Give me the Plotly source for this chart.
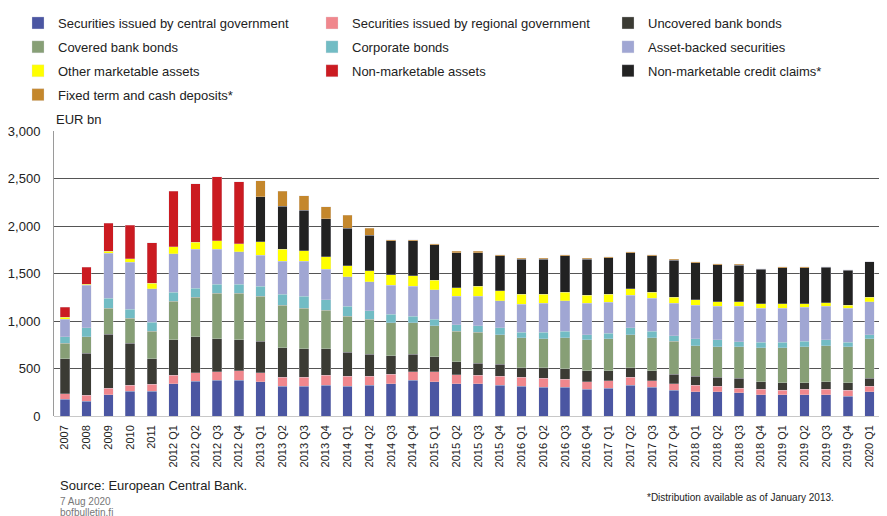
import plotly.graph_objects as go

categories = ["2007", "2008", "2009", "2010", "2011",
              "2012 Q1", "2012 Q2", "2012 Q3", "2012 Q4",
              "2013 Q1", "2013 Q2", "2013 Q3", "2013 Q4",
              "2014 Q1", "2014 Q2", "2014 Q3", "2014 Q4",
              "2015 Q1", "2015 Q2", "2015 Q3", "2015 Q4",
              "2016 Q1", "2016 Q2", "2016 Q3", "2016 Q4",
              "2017 Q1", "2017 Q2", "2017 Q3", "2017 Q4",
              "2018 Q1", "2018 Q2", "2018 Q3", "2018 Q4",
              "2019 Q1", "2019 Q2", "2019 Q3", "2019 Q4",
              "2020 Q1", "2020 Q2"]

central_gov = [178, 154, 224, 259, 259, 339, 364, 374, 374, 360, 315, 315, 325,
               315, 325, 339, 374, 360, 339, 339, 325, 315, 301, 301, 280,
               292, 325, 301, 269, 255, 255, 245, 224, 224, 224, 224, 210, 255, 371]
regional_gov = [56, 66, 66, 66, 77, 91, 91, 91, 102, 95, 94, 94, 105,
                101, 91, 102, 91, 105, 95, 91, 91, 91, 94, 84, 80,
                80, 81, 70, 70, 70, 60, 45, 56, 45, 56, 56, 59, 60, 84]
uncovered_bank = [371, 441, 570, 441, 269, 371, 381, 346, 325, 332, 308, 297, 276,
                  255, 234, 195, 185, 161, 136, 126, 129, 104, 115, 112, 116,
                  104, 104, 105, 102, 91, 91, 105, 80, 81, 70, 80, 81, 80, 136]
covered_bank = [161, 171, 276, 265, 287, 405, 416, 479, 489, 475, 451, 427, 406,
                381, 367, 347, 333, 322, 322, 325, 312, 315, 301, 328, 325,
                335, 347, 346, 346, 325, 325, 334, 360, 370, 381, 381, 381, 416, 577]
corporate = [66, 95, 105, 91, 94, 98, 91, 98, 98, 102, 115, 129, 112,
             105, 91, 90, 69, 69, 70, 70, 70, 56, 70, 67, 56,
             58, 70, 70, 59, 70, 70, 54, 56, 56, 56, 60, 45, 46, 94]
asset_backed = [185, 447, 472, 497, 353, 406, 412, 367, 343, 328, 346, 367, 321,
                308, 305, 301, 312, 312, 297, 308, 286, 297, 308, 321, 332,
                330, 342, 346, 343, 357, 356, 372, 360, 360, 360, 356, 360, 346, 374]
other_marketable = [25, 14, 21, 35, 60, 70, 74, 91, 80, 144, 126, 112, 130,
                    115, 115, 112, 112, 101, 91, 105, 105, 105, 94, 91, 80,
                    82, 70, 66, 59, 56, 46, 46, 46, 46, 35, 35, 32, 45, 60]
non_marketable = [105, 178, 297, 353, 426, 584, 615, 671, 654] + [None] * 30
credit_claims = [None] * 9 + [472, 451, 427, 402,
                              396, 374, 360, 370, 371, 370, 356, 367, 367, 367, 381, 381,
                              385, 381, 381, 392, 391, 388, 388, 363, 381, 377, 374, 367, 378, 668]
fixed_term = [None] * 9 + [168, 158, 150, 126,
                           136, 74, 11, 11, 14, 14, 14, 11, 11, 11, 11, 11,
                           11, 11, 11, 10, 11, 10, 10, 3, 10, 11, 3, 2, 0, 0]

# (name, values, colour, legend column)
series = [
    ("Securities issued by central government", central_gov, "#4B56A2", "legend"),
    ("Securities issued by regional government", regional_gov, "#F0878D", "legend2"),
    ("Uncovered bank bonds", uncovered_bank, "#3B3B34", "legend3"),
    ("Covered bank bonds", covered_bank, "#879F76", "legend"),
    ("Corporate bonds", corporate, "#72BCC4", "legend2"),
    ("Asset-backed securities", asset_backed, "#A0A6D3", "legend3"),
    ("Other marketable assets", other_marketable, "#FFFF00", "legend"),
    ("Non-marketable assets", non_marketable, "#CB1B21", "legend2"),
    ("Non-marketable credit claims*", credit_claims, "#222222", "legend3"),
    ("Fixed term and cash deposits*", fixed_term, "#C4872C", "legend"),
]

FONT = "Liberation Sans"
FIG_W = 895          # wider than the window: the right edge is cut off like the original
PLOT_W = FIG_W - 46
X_END = -0.5 + PLOT_W / 21.75


def px(xp):
    # horizontal pixel offset from plot-area left -> paper fraction
    return xp / PLOT_W


fig = go.Figure()
for i, (name, vals, col, leg) in enumerate(series):
    fig.add_trace(go.Bar(
        x=categories, y=vals, name=name, legend=leg, legendgroup=f"g{i}",
        marker=dict(color=col, line=dict(color="rgba(220,220,230,0.6)", width=0.5)),
    ))


def legend_at(xpos):
    return dict(
        orientation="v", x=xpos, xanchor="left", y=1.0, yanchor="top",
        xref="paper", yref="container",
        traceorder="grouped", tracegroupgap=4,
        font=dict(family=FONT, size=13, color="#222222"),
        bgcolor="rgba(0,0,0,0)", borderwidth=0,
    )


fig.update_layout(
    width=FIG_W, height=508,
    barmode="stack", bargap=0.57,
    plot_bgcolor="white", paper_bgcolor="white",
    margin=dict(l=46, r=0, t=123, b=100, autoexpand=False),
    font=dict(family=FONT, color="#222222"),
    showlegend=True,
    legend=legend_at(px(-36)),
    legend2=legend_at(px(258)),
    legend3=legend_at(px(554)),
    xaxis=dict(
        type="category", range=[-0.5, X_END],
        tickangle=-90, tickfont=dict(family=FONT, size=11, color="#222222"),
        showgrid=False, showline=False, ticks="", zeroline=False,
        ticklabelstandoff=6,
    ),
    yaxis=dict(
        range=[0, 3000], dtick=500, tickformat=",",
        tickfont=dict(family=FONT, size=13, color="#222222"),
        showgrid=True, gridcolor="#555555", gridwidth=1,
        showline=True, linecolor="#9a9a9a", linewidth=1,
        zeroline=True, zerolinecolor="#c8c8c8", zerolinewidth=1,
        ticks="", ticklabelstandoff=10,
    ),
    annotations=[
        dict(text="EUR bn", xref="paper", yref="paper", x=0.0, y=1.0,
             xanchor="left", yanchor="bottom", yshift=2, showarrow=False,
             font=dict(family=FONT, size=13, color="#222222")),
        dict(text="Source: European Central Bank.", xref="paper", yref="paper",
             x=0.0, y=0, xanchor="left", yanchor="top", xshift=4, yshift=-60,
             showarrow=False, font=dict(family=FONT, size=13, color="#222222")),
        dict(text="7 Aug 2020", xref="paper", yref="paper",
             x=0.0, y=0, xanchor="left", yanchor="top", xshift=4, yshift=-78,
             showarrow=False, font=dict(family=FONT, size=10, color="#777777")),
        dict(text="bofbulletin.fi", xref="paper", yref="paper",
             x=0.0, y=0, xanchor="left", yanchor="top", xshift=4, yshift=-89,
             showarrow=False, font=dict(family=FONT, size=10, color="#777777")),
        dict(text="*Distribution available as of January 2013.", xref="paper", yref="paper",
             x=0.0, y=0, xanchor="left", yanchor="top", xshift=591, yshift=-74,
             showarrow=False, font=dict(family=FONT, size=10, color="#222222")),
    ],
)

fig.write_html("out.html")
